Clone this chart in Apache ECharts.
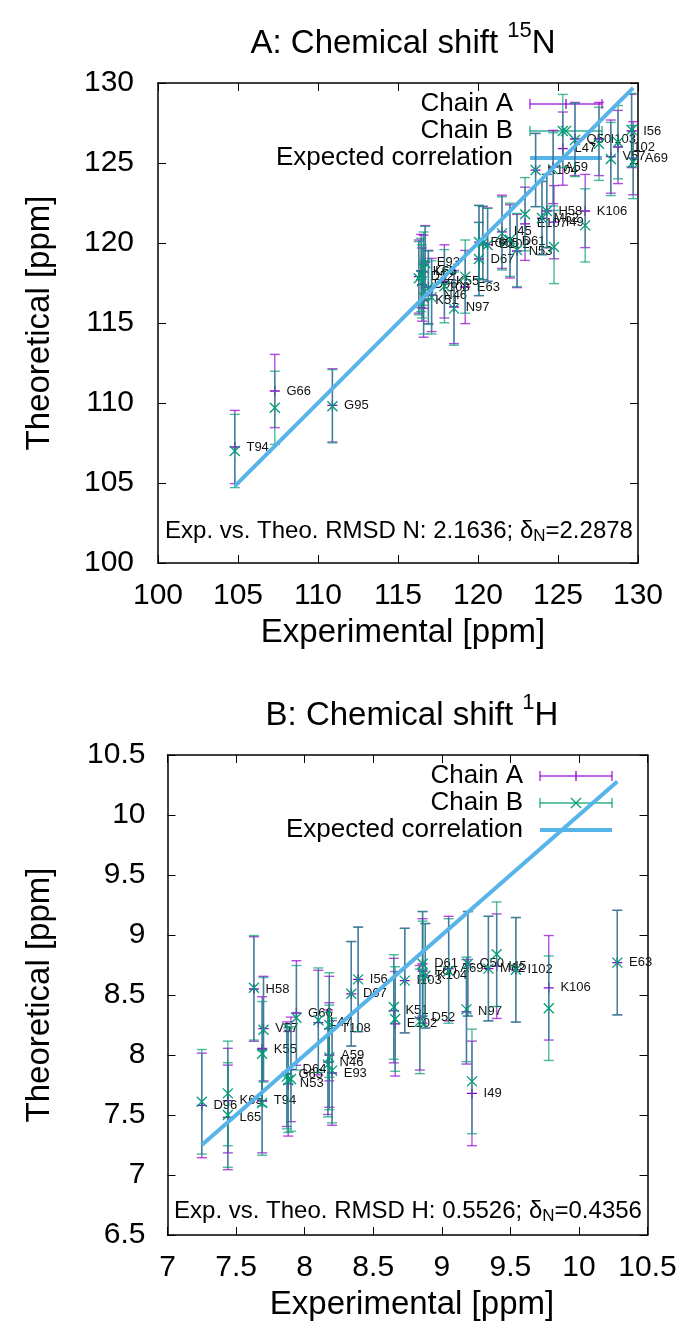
<!DOCTYPE html>
<html>
<head>
<meta charset="utf-8">
<script src="https://cdn.jsdelivr.net/npm/echarts@6/dist/echarts.min.js"></script>
<style>
html,body{margin:0;padding:0;background:#fff;}
#chart{width:688px;height:1324px;}
</style>
</head>
<body>
<div id="chart"></div>
<script>
// ---------------- Data: panel A (15N) ----------------
const labelsN = ['T94','G66','G95','E93','K65','D52','D96','L65','T108','K51','N46','K55','N97','E63','D67','F60','G65','E102','I45','D61','N53','E107','M62','H58','I49','K104','A59','L47','Q50','K106','I103','I102','V57','A69','I56'];
const expN    = [104.8,107.3,110.9,116.7,116.45,116.3,116.5,116.6,116.9,116.6,117.1,117.9,118.5,119.2,120.06,120.06,120.3,120.6,121.5,122.0,122.44,122.94,124.0,124.3,124.75,123.6,124.7,125.3,126.06,126.7,127.56,128.75,128.3,129.7,129.6];
const theoNA  = [107.25,110.75,109.85,118.8,118.25,117.9,117.4,118.2,117.25,116.4,116.75,117.6,116.0,117.25,119.0,120.06,120.0,119.9,120.7,120.1,119.5,121.2,121.56,122.0,121.3,124.56,124.75,125.9,126.5,122.0,126.5,126.0,125.4,125.3,127.0];
const theoNB  = [107.0,109.7,109.8,118.75,118.0,117.8,117.6,118.4,117.2,116.6,116.6,117.3,115.9,117.9,119.0,120.06,120.0,119.875,120.6,120.2,119.56,121.8,121.56,122.0,119.75,124.56,124.6,127.0,126.44,121.1,126.2,126.3,125.25,125.06,127.06];
const deltaN = 2.2878;
const rmsdN = 2.1636;
const ticksN = {min:100, max:130, step:5};

// ---------------- Data: panel B (1H) ----------------
const labelsH = ['D96','K65','L65','T94','H58','V57','K55','G66','G65','D64','N53','L47','T108','A59','N46','E93','D67','I56','K51','E102','D52','I103','D61','F60','K104','A69','Q50','N97','I49','M62','I45','I102','K106','E63'];
const expH    = [7.25,7.44,7.44,7.69,7.63,7.70,7.69,7.94,7.87,7.90,7.88,8.10,8.18,8.18,8.17,8.20,8.34,8.39,8.65,8.66,8.84,8.73,8.86,8.86,8.88,9.05,9.19,9.18,9.22,9.34,9.40,9.54,9.78,10.28];
const theoHA  = [7.58,7.62,7.48,7.62,8.55,8.22,8.05,8.35,7.84,7.88,7.76,8.27,8.22,8.00,7.94,7.85,8.51,8.63,8.37,8.26,8.31,8.62,8.76,8.70,8.66,8.72,8.76,8.36,7.68,8.72,8.74,8.71,8.56,8.77];
const theoHB  = [7.61,7.68,7.50,7.60,8.56,8.21,8.01,8.31,7.82,7.80,7.79,8.29,8.25,7.98,7.92,7.87,8.51,8.63,8.40,8.30,8.28,8.62,8.76,8.68,8.66,8.70,8.76,8.38,7.78,8.72,8.84,8.71,8.39,8.77];
const deltaH = 0.4356;
const rmsdH = 0.5526;
const ticksH = {xmin:7, xmax:10.5, ymin:6.5, ymax:10.5, step:0.5};

// ---------------- Styling ----------------
const FONT = '"Liberation Sans", Arial, Helvetica, sans-serif';
const PURPLE = '#9400d3', GREEN = '#009e73', BLUE = '#56b4e9';
const PLUS = 'path://M0,5L10,5M5,0L5,10';
const CROSS = 'path://M0,0L10,10M10,0L0,10';

const chart = echarts.init(document.getElementById('chart'), null, {renderer:'canvas'});

const gridA = {left:158, top:83, width:480, height:480};
const gridB = {left:167.5, top:755, width:480, height:480};

function axisDef(gridIndex, min, max, step, showLabels, position, margin) {
  return {
    type:'value', gridIndex, min, max, interval:step, position,
    axisLine:{show:true, onZero:false, lineStyle:{color:'#000', width:1.5}},
    axisTick:{show:true, inside:true, length:8, lineStyle:{color:'#000', width:1}},
    splitLine:{show:false},
    axisLabel:{show:showLabels, color:'#000', fontSize:30, fontFamily:FONT, margin:margin,
      formatter: v => String(Math.round(v*10)/10)}
  };
}

// axis index 0/1 -> panel A (bottom/top, left/right); 2/3 -> panel B
const xAxes = [
  axisDef(0,ticksN.min,ticksN.max,ticksN.step,true,'bottom',18),
  axisDef(0,ticksN.min,ticksN.max,ticksN.step,false,'top',0),
  axisDef(1,ticksH.xmin,ticksH.xmax,ticksH.step,true,'bottom',18),
  axisDef(1,ticksH.xmin,ticksH.xmax,ticksH.step,false,'top',0),
];
const yAxes = [
  axisDef(0,ticksN.min,ticksN.max,ticksN.step,true,'left',24),
  axisDef(0,ticksN.min,ticksN.max,ticksN.step,false,'right',0),
  axisDef(1,ticksH.ymin,ticksH.ymax,ticksH.step,true,'left',22),
  axisDef(1,ticksH.ymin,ticksH.ymax,ticksH.step,false,'right',0),
];

function errSeries(axisIdx, exp, theo, delta, color, z) {
  return {
    type:'custom', xAxisIndex:axisIdx, yAxisIndex:axisIdx, z, silent:true,
    data: exp.map((x,i)=>[x, theo[i]-delta, theo[i]+delta]),
    encode:{x:0, y:[1,2]},
    renderItem:(params, api)=>{
      const lo = api.coord([api.value(0), api.value(1)]);
      const hi = api.coord([api.value(0), api.value(2)]);
      const w = 5;
      const st = {stroke:color, lineWidth:1.4, opacity:0.7};
      return {type:'group', children:[
        {type:'line', shape:{x1:lo[0], y1:lo[1], x2:hi[0], y2:hi[1]}, style:st},
        {type:'line', shape:{x1:lo[0]-w, y1:lo[1], x2:lo[0]+w, y2:lo[1]}, style:st},
        {type:'line', shape:{x1:hi[0]-w, y1:hi[1], x2:hi[0]+w, y2:hi[1]}, style:st},
      ]};
    }
  };
}

function pointSeries(axisIdx, exp, theo, symbol, color, z, labels) {
  const s = {
    type:'scatter', xAxisIndex:axisIdx, yAxisIndex:axisIdx, z, silent:true,
    data: exp.map((x,i)=>[x, theo[i]]),
    symbol, symbolSize:10,
    itemStyle:{color:'rgba(0,0,0,0)', borderColor:color, borderWidth:1.3, opacity:1},
  };
  if (labels) {
    s.label = {show:true, position:'right', distance:6, color:'#111', fontSize:13, fontFamily:FONT,
      formatter: p => labels[p.dataIndex]};
    s.labelLayout = {hideOverlap:false};
  }
  return s;
}

function corrSeries(axisIdx, exp) {
  const lo = Math.min(...exp), hi = Math.max(...exp);
  return {type:'line', xAxisIndex:axisIdx, yAxisIndex:axisIdx, z:20, silent:true, symbol:'none',
    data:[[lo,lo],[hi,hi]], lineStyle:{color:BLUE, width:4}};
}

// Legend drawn with graphic primitives
function legend(x0, y0) {
  const items = [];
  const rows = [['Chain A', PURPLE, 'plus'], ['Chain B', GREEN, 'cross'], ['Expected correlation', BLUE, 'line']];
  rows.forEach((r, k) => {
    const y = y0 + k*27;
    items.push({type:'text', x: x0, y: y, style:{text:r[0], fill:'#000', font:'26px '+FONT, textAlign:'right', textVerticalAlign:'middle'}});
    const x1 = x0 + 17, x2 = x0 + 89, xm = (x1+x2)/2;
    if (r[2] === 'line') {
      items.push({type:'line', shape:{x1, y1:y, x2, y2:y}, style:{stroke:BLUE, lineWidth:4}});
    } else {
      const st = {stroke:r[1], lineWidth:1.4, opacity:0.8};
      items.push({type:'line', shape:{x1, y1:y, x2, y2:y}, style:st});
      items.push({type:'line', shape:{x1, y1:y-5, x2:x1, y2:y+5}, style:st});
      items.push({type:'line', shape:{x1:x2, y1:y-5, x2, y2:y+5}, style:st});
      if (r[2] === 'plus') {
        items.push({type:'line', shape:{x1:xm, y1:y-5, x2:xm, y2:y+5}, style:{stroke:r[1], lineWidth:1.3}});
      } else {
        items.push({type:'line', shape:{x1:xm-5, y1:y-5, x2:xm+5, y2:y+5}, style:{stroke:r[1], lineWidth:1.3}});
        items.push({type:'line', shape:{x1:xm+5, y1:y-5, x2:xm-5, y2:y+5}, style:{stroke:r[1], lineWidth:1.3}});
      }
    }
  });
  return items;
}

const richSup = {
  m:{fontSize:33, fontWeight:'normal', fontFamily:FONT, color:'#000', lineHeight:40, verticalAlign:'bottom'},
  sup:{fontSize:22, fontWeight:'normal', fontFamily:FONT, color:'#000', lineHeight:40, verticalAlign:'top', padding:[0,0,14,0]},
};
const richSub = {
  m:{fontSize:24, fontWeight:'normal', fontFamily:FONT, color:'#000', lineHeight:30},
  sub:{fontSize:17, fontWeight:'normal', fontFamily:FONT, color:'#000', lineHeight:30, padding:[10,0,0,0]},
};

const option = {
  animation:false,
  backgroundColor:'#fff',
  grid:[gridA, gridB],
  xAxis: xAxes,
  yAxis: yAxes,
  title:[
    {text:'{m|A: Chemical shift }{sup|15}{m|N}', left:398, top:15, textAlign:'center', textStyle:{fontWeight:'normal', rich:richSup}},
    {text:'{m|B: Chemical shift }{sup|1}{m|H}', left:407, top:687, textAlign:'center', textStyle:{fontWeight:'normal', rich:richSup}},
    {text:'{m|Exp. vs. Theo. RMSD N: ' + rmsdN.toFixed(4) + '; δ}{sub|N}{m|=' + deltaN.toFixed(4) + '}', left:394, top:511, textAlign:'center', textStyle:{fontWeight:'normal', rich:richSub}},
    {text:'{m|Exp. vs. Theo. RMSD H: ' + rmsdH.toFixed(4) + '; δ}{sub|N}{m|=' + deltaH.toFixed(4) + '}', left:403, top:1191, textAlign:'center', textStyle:{fontWeight:'normal', rich:richSub}},
    {text:'Experimental [ppm]', left:398, top:611, textAlign:'center', textStyle:{fontSize:33, fontWeight:'normal', fontFamily:FONT, color:'#000'}},
    {text:'Experimental [ppm]', left:407, top:1283, textAlign:'center', textStyle:{fontSize:33, fontWeight:'normal', fontFamily:FONT, color:'#000'}},
  ],
  graphic:[
    {type:'text', x:40, y:323, rotation:Math.PI/2, style:{text:'Theoretical [ppm]', font:'33px '+FONT, fill:'#000', textAlign:'center', textVerticalAlign:'middle'}},
    {type:'text', x:40, y:995, rotation:Math.PI/2, style:{text:'Theoretical [ppm]', font:'33px '+FONT, fill:'#000', textAlign:'center', textVerticalAlign:'middle'}},
    ...legend(513, 104),
    ...legend(523, 776),
  ],
  series:[
    errSeries(0, expN, theoNA, deltaN, PURPLE, 2),
    pointSeries(0, expN, theoNA, PLUS, PURPLE, 3, labelsN),
    errSeries(0, expN, theoNB, deltaN, GREEN, 4),
    pointSeries(0, expN, theoNB, CROSS, GREEN, 5, null),
    corrSeries(0, expN),
    errSeries(2, expH, theoHA, deltaH, PURPLE, 2),
    pointSeries(2, expH, theoHA, PLUS, PURPLE, 3, labelsH),
    errSeries(2, expH, theoHB, deltaH, GREEN, 4),
    pointSeries(2, expH, theoHB, CROSS, GREEN, 5, null),
    corrSeries(2, expH),
  ]
};
chart.setOption(option);
</script>
</body>
</html>
